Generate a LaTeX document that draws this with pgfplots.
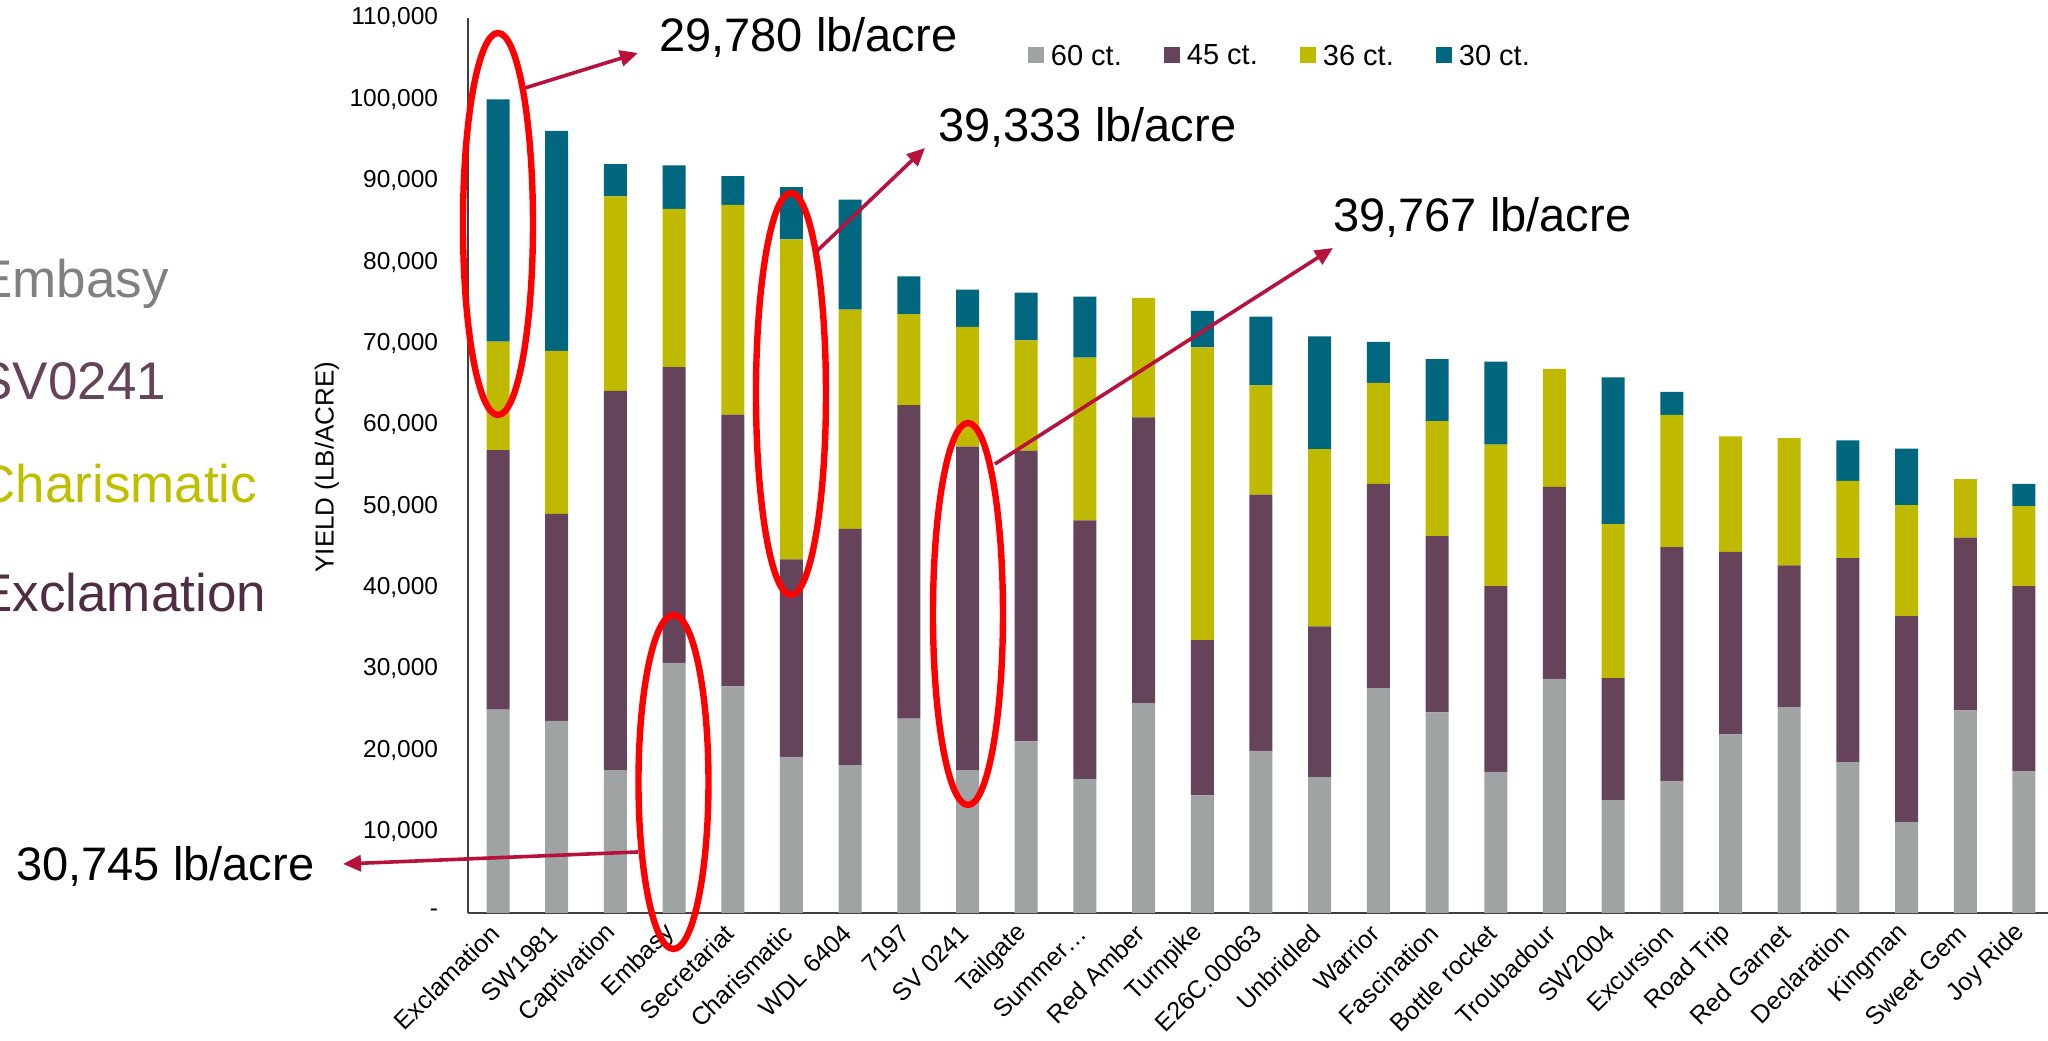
\documentclass[border=0pt]{standalone}
\usepackage{fontspec}
\setmainfont{Liberation Sans}
\usepackage{pgfplots}
\usepackage{pgfplotstable}
\pgfplotsset{compat=1.18}
\usetikzlibrary{arrows.meta}

\definecolor{c60}{HTML}{A0A3A4}
\definecolor{c45}{HTML}{65435A}
\definecolor{c36}{HTML}{BFBA00}
\definecolor{c30}{HTML}{00677F}
\definecolor{axisc}{HTML}{404040}
\definecolor{arrowc}{HTML}{B8123C}
\definecolor{txtgrey}{HTML}{808080}
\definecolor{txtpurple}{HTML}{65435A}
\definecolor{txtyellow}{HTML}{BFBF00}
\definecolor{txtdark}{HTML}{4F2E43}

\newcommand{\ytickfont}{\fontsize{12.25bp}{14bp}\selectfont}
\newcommand{\xtickfont}{\fontsize{12.5bp}{14bp}\selectfont}
\newcommand{\notefont}{\fontsize{23.5bp}{28bp}\selectfont}
\newcommand{\sidefont}{\fontsize{26.5bp}{31bp}\selectfont}

% yield per size class, lb/acre
\pgfplotstableread{
x  c60   c45   c36   c30
0  25000 31900 13320 29780
1  23600 25460 20040 27020
2  17550 46610 23920 3960
3  30745 36360 19430 5345
4  27840 33425 25755 3550
5  19180 24290 39333 6400
6  18160 29060 26940 13510
7  23880 38530 11180 4650
8  17550 39767 14720 4570
9  21100 35715 13550 5880
10 16450 31800 20000 7510
11 25800 35100 14690 0
12 14450 19100 35960 4490
13 19920 31510 13430 8450
14 16690 18530 21780 13860
15 27630 25100 12410 5060
16 24650 21670 14120 7630
17 17350 22810 17400 10200
18 28780 23590 14490 0
19 13880 14980 18940 18040
20 16245 28735 16245 2820
21 21960 22410 14200 0
22 25300 17430 15630 0
23 18530 25100 9470 4980
24 11180 25310 13630 6940
25 24900 21220 7220 0
26 17430 22730 9840 2730
}\yieldtable

\begin{document}
\begin{tikzpicture}
\path[use as bounding box] (0,0) rectangle (1024bp,520.5bp);
\begin{axis}[
    at={(233.75bp,64bp)}, anchor=south west,
    scale only axis, width=790.25bp, height=447.5bp,
    ybar stacked, bar width=11.5bp,
    xmin=-0.52, xmax=26.41, ymin=0, ymax=110000,
    axis lines*=left,
    axis line style={draw=axisc, line width=1bp},
    major tick length=0pt,
    xtick={0,...,26},
    xticklabels={Exclamation, SW1981, Captivation, Embasy, Secretariat,
        Charismatic, WDL 6404, 7197, SV 0241, Tailgate, Summer…, Red Amber,
        Turnpike, E26C.00063, Unbridled, Warrior, Fascination, Bottle rocket,
        Troubadour, SW2004, Excursion, Road Trip, Red Garnet, Declaration,
        Kingman, Sweet Gem, Joy Ride},
    ytick={0,10000,...,110000},
    yticklabels={{-\hspace{6.5bp}}, {10,000}, {20,000}, {30,000}, {40,000},
        {50,000}, {60,000}, {70,000}, {80,000}, {90,000}, {100,000}, {110,000}},
    xticklabel style={font=\xtickfont, inner sep=0pt, xshift=-1.5bp, yshift=-8bp,
        rotate=45, anchor=east},
    yticklabel style={font=\ytickfont, inner sep=0pt, anchor=east, xshift=-14.5bp},
    ylabel={YIELD (LB/ACRE)},
    every axis y label/.style={at={(axis description cs:-0.0889,0.4983)},
        rotate=90, anchor=center, font=\fontsize{13bp}{15bp}\selectfont},
    legend columns=4,
    legend image code/.code={\fill[#1] (0bp,-4bp) rectangle (8bp,4bp); \path (11.5bp,0bp);},
    legend style={at={(axis description cs:0.3546,0.9587)}, anchor=west,
        draw=none, fill=none, inner sep=0pt, outer sep=0pt,
        nodes={inner sep=0pt, text depth=0pt}, cells={anchor=west},
        font=\fontsize{14.5bp}{17bp}\selectfont},
  ]
  \addplot[fill=c60, draw=none] table[x=x, y=c60] {\yieldtable};
  \addplot[fill=c45, draw=none] table[x=x, y=c45] {\yieldtable};
  \addplot[fill=c36, draw=none] table[x=x, y=c36] {\yieldtable};
  \addplot[fill=c30, draw=none] table[x=x, y=c30] {\yieldtable};
  \legend{\makebox[56.5bp][l]{60 ct.}, \makebox[56.5bp][l]{45 ct.},
      \makebox[56.5bp][l]{36 ct.}, \makebox[56.5bp][l]{30 ct.}}
\end{axis}

% callouts, in pixel units of the 2048 x 1041 frame
\begin{scope}[shift={(0bp,520.5bp)}, x=0.5bp, y=-0.5bp]
  \begin{scope}[draw=red, line width=3.2bp]
    \draw (498,224) ellipse [x radius=35, y radius=191];
    \draw (791,394) ellipse [x radius=35, y radius=201];
    \draw (673.5,782) ellipse [x radius=35, y radius=167];
    \draw (968,614) ellipse [x radius=35, y radius=191];
  \end{scope}
  \begin{scope}[draw=arrowc, line width=1.8bp, -{Triangle[length=9bp, width=8bp]}]
    \draw (525,88) -- (638,53);
    \draw (816,252) -- (925,148);
    \draw (995,464) -- (1333,248);
    \draw (638,852) -- (343,864);
  \end{scope}
  \node[anchor=base west, inner sep=0pt, font=\notefont] at (659,52) {29,780 lb/acre};
  \node[anchor=base west, inner sep=0pt, font=\notefont] at (938,142) {39,333 lb/acre};
  \node[anchor=base west, inner sep=0pt, font=\notefont] at (1333,232) {39,767 lb/acre};
  \node[anchor=base west, inner sep=0pt, font=\notefont] at (16,881) {30,745 lb/acre};
  \node[anchor=base west, inner sep=0pt, font=\sidefont, text=txtgrey] at (-23,298) {Embasy};
  \node[anchor=base west, inner sep=0pt, font=\sidefont, text=txtpurple] at (-23,400) {SV0241};
  \node[anchor=base west, inner sep=0pt, font=\sidefont, text=txtyellow] at (-23,503) {Charismatic};
  \node[anchor=base west, inner sep=0pt, font=\sidefont, text=txtdark] at (-23,612) {Exclamation};
\end{scope}
\end{tikzpicture}
\end{document}
